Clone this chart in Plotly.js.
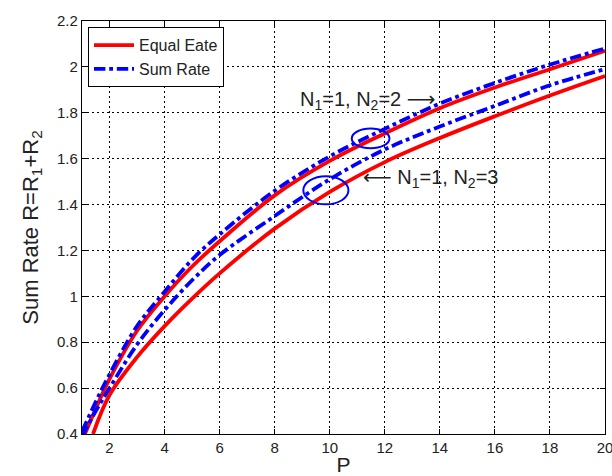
<!DOCTYPE html>
<html>
<head>
<meta charset="utf-8">
<script src="https://cdn.plot.ly/plotly-3.0.1.min.js"></script>
<style>html,body{margin:0;padding:0;background:#fff;}#chart{width:612px;height:476px;}</style>
</head>
<body>
<div id="chart"></div>
<script>
// Data
const xTicks = [2, 4, 6, 8, 10, 12, 14, 16, 18, 20];
const yTicks = [0.4, 0.6, 0.8, 1, 1.2, 1.4, 1.6, 1.8, 2, 2.2];

// N1=1, N2=2
const pA = [1, 1.5, 2, 3, 4, 5, 6, 8, 10, 12, 14, 16, 18, 20];
const equalRateN2 = [0.37, 0.51, 0.64, 0.85, 1.00, 1.13, 1.24, 1.44, 1.59, 1.71, 1.82, 1.91, 1.99, 2.07];
const sumRateN2   = [0.41, 0.54, 0.66, 0.87, 1.02, 1.16, 1.27, 1.46, 1.61, 1.73, 1.84, 1.93, 2.01, 2.08];
// N1=1, N2=3
const pB = [1, 1.5, 2, 3, 4, 5, 6, 8, 10, 12, 14, 16, 18, 20];
const sumRateN3   = [0.39, 0.50, 0.60, 0.79, 0.94, 1.07, 1.18, 1.35, 1.51, 1.64, 1.74, 1.83, 1.92, 1.99];
const pC = [1.4, 2, 3, 4, 5, 6, 8, 10, 12, 14, 16, 18, 20];
const equalRateN3 = [0.40, 0.57, 0.735, 0.87, 0.99, 1.10, 1.295, 1.455, 1.585, 1.69, 1.785, 1.875, 1.96];

const seriesNames = ['Equal Eate', 'Sum Rate'];
const ARW = 'font-family:DejaVu Sans';
const annoText = [
  'N<sub>1</sub>=1, N<sub>2</sub>=2 <span style="' + ARW + '">\u27F6</span>',
  '<span style="' + ARW + '">\u27F5</span> N<sub>1</sub>=1, N<sub>2</sub>=3'
];
const annoPos = [[8.85, 1.857], [11.15, 1.515]];
const ellipses = [[10.8, 1.645, 12.17, 1.731], [9.04, 1.401, 10.68, 1.523]];

const RED = 'rgb(255,0,0)';
const BLUE = 'rgb(0,0,255)';
const FONT = 'Arial, "Liberation Sans", sans-serif';

const redLine = {color: RED, width: 3.8, shape: 'spline'};
const blueLine = {color: BLUE, width: 3.8, dash: 'dashdot', shape: 'spline'};

const traces = [
  {x: pA, y: equalRateN2, mode: 'lines', name: seriesNames[0], line: redLine, showlegend: true},
  {x: pA, y: sumRateN2, mode: 'lines', name: seriesNames[1], line: blueLine, showlegend: true},
  {x: pB, y: sumRateN3, mode: 'lines', name: seriesNames[1], line: blueLine, showlegend: false},
  {x: pC, y: equalRateN3, mode: 'lines', name: seriesNames[0], line: redLine, showlegend: false}
];

const axisCommon = {
  showline: true, mirror: 'ticks', linecolor: '#000', linewidth: 1.2,
  ticks: 'inside', ticklen: 5, tickcolor: '#000',
  showgrid: true, gridcolor: '#000', gridwidth: 1, griddash: '2px,3px',
  zeroline: false, ticklabeloverflow: 'allow',
  tickfont: {family: FONT, size: 15, color: '#222'}
};

const layout = {
  width: 612, height: 476,
  margin: {l: 82, r: 7, t: 21, b: 42},
  paper_bgcolor: '#fff', plot_bgcolor: '#fff',
  font: {family: FONT, color: '#222'},
  xaxis: Object.assign({}, axisCommon, {
    range: [1, 20], tickvals: xTicks, ticktext: xTicks.map(String),
    title: {text: 'P', font: {family: FONT, size: 21, color: '#222'}, standoff: 0}
  }),
  yaxis: Object.assign({}, axisCommon, {
    range: [0.4, 2.2], tickvals: yTicks, ticktext: yTicks.map(String),
    title: {text: 'Sum Rate R=R<sub>1</sub>+R<sub>2</sub>', font: {family: FONT, size: 22, color: '#222'}, standoff: 12}
  }),
  legend: {
    x: 0.0115, y: 0.985, xanchor: 'left', yanchor: 'top',
    bgcolor: '#fff', bordercolor: '#000', borderwidth: 1,
    font: {family: FONT, size: 16, color: '#222'},
    tracegroupgap: 0, itemwidth: 40
  },
  annotations: annoText.map((t, i) => ({
    x: annoPos[i][0], y: annoPos[i][1], xref: 'x', yref: 'y',
    xanchor: 'left', yanchor: 'middle', text: t, showarrow: false,
    font: {family: FONT, size: 20, color: '#222'}
  })),
  shapes: ellipses.map(e => ({
    type: 'circle', xref: 'x', yref: 'y',
    x0: e[0], y0: e[1], x1: e[2], y1: e[3],
    line: {color: BLUE, width: 2}
  })),
  showlegend: true
};

Plotly.newPlot('chart', traces, layout, {displayModeBar: false, staticPlot: true});
</script>
</body>
</html>
